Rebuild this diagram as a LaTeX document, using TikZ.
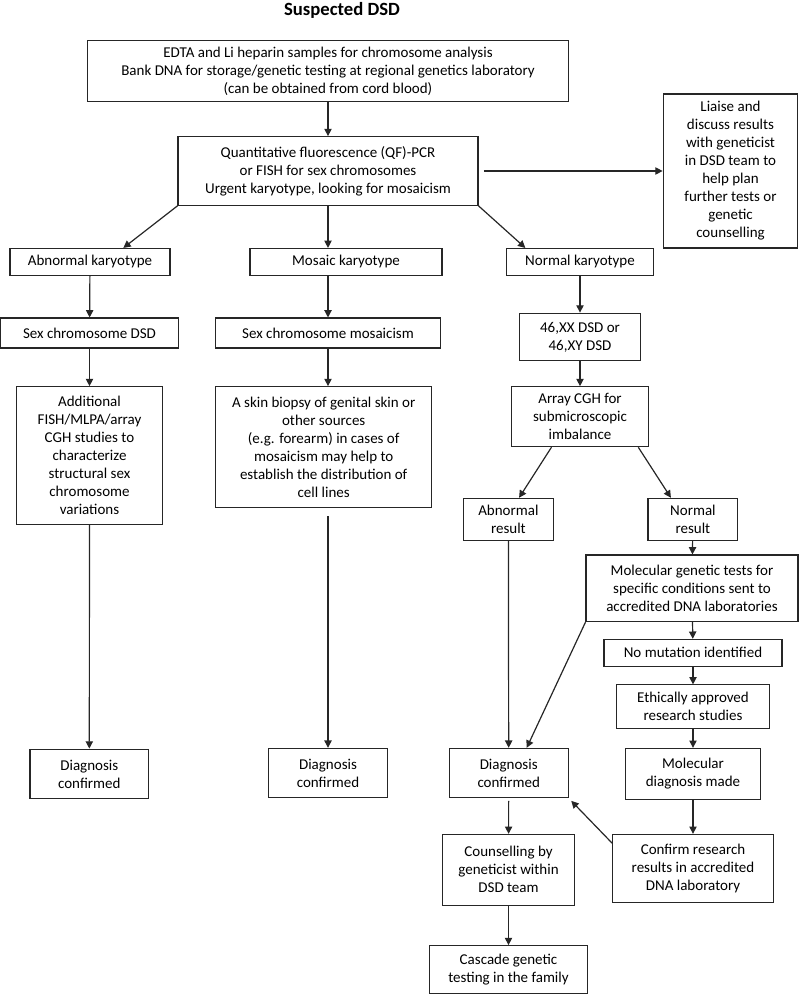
\documentclass[tikz,border=0pt]{standalone}
\usepackage{fontspec}
\setmainfont{Carlito}
\usetikzlibrary{arrows.meta}

\begin{document}
\begin{tikzpicture}[x=0.75pt, y=-0.75pt, font=\fontsize{11.25}{13.5}\selectfont,
	box/.style={draw=black!85, line width=0.8pt, align=center, inner sep=2pt},
	arr/.style={-{Triangle[length=5.5pt,width=5.5pt]}, line width=0.9pt, draw=black!85}]
	\useasboundingbox (0,0) rectangle (800,994);

	\node (title) [anchor=base, font=\fontsize{14}{16}\selectfont\bfseries] at (342,16) {Suspected DSD};

	% top of the chart
	\node (samples) [box, minimum width=361pt, minimum height=46pt] at (328,71) {EDTA and Li heparin samples for chromosome analysis\\Bank DNA for storage/genetic testing at regional genetics laboratory\\(can be obtained from cord blood)};
	\node (qf) [box, minimum width=225pt, minimum height=51.5pt] at (328,171) {Quantitative fluorescence (QF)-PCR\\or FISH for sex chromosomes\\Urgent karyotype, looking for mosaicism};
	\node (liaise) [box, minimum width=101pt, minimum height=115.5pt] at (730.5,171) {Liaise and\\discuss results\\with geneticist\\in DSD team to\\help plan\\further tests or\\genetic\\counselling};

	% karyotype results
	\node (abnkar) [box, minimum width=120pt, minimum height=20.3pt] at (90,262) {Abnormal karyotype};
	\node (moskar) [box, minimum width=144pt, minimum height=20.3pt] at (346,262) {Mosaic karyotype};
	\node (normkar) [box, minimum width=110pt, minimum height=20.3pt] at (580,262) {Normal karyotype};

	\node (sexdsd) [box, minimum width=133.5pt, minimum height=22.5pt] at (89.5,333) {Sex chromosome DSD};
	\node (sexmos) [box, minimum width=168.4pt, minimum height=22.5pt] at (328,333) {Sex chromosome mosaicism};
	\node (xydsd) [box, minimum width=90.8pt, minimum height=35.8pt] at (580,337) {46,XX DSD or\\46,XY DSD};

	\node (extra) [box, minimum width=110pt, minimum height=103.2pt] at (89.5,455.5) {Additional\\FISH/MLPA/array\\CGH studies to\\characterize\\structural sex\\chromosome\\variations};
	\node (skin) [box, minimum width=162pt, minimum height=90.8pt] at (323.7,447.2) {A skin biopsy of genital skin or\\other sources\\(e.g. forearm) in cases of\\mosaicism may help to\\establish the distribution of\\cell lines};
	\node (cgh) [box, minimum width=103.4pt, minimum height=45pt] at (580,416.7) {Array CGH for\\submicroscopic\\imbalance};

	\node (abnres) [box, minimum width=67.7pt, minimum height=31.8pt] at (508.4,519.5) {Abnormal\\result};
	\node (normres) [box, minimum width=67.4pt, minimum height=31.8pt] at (692.9,519.5) {Normal\\result};

	% molecular branch
	\node (moltest) [box, minimum width=159pt, minimum height=50pt] at (692,588.3) {Molecular genetic tests for\\specific conditions sent to\\accredited DNA laboratories};
	\node (nomut) [box, minimum width=133.5pt, minimum height=20pt] at (693,652.7) {No mutation identified};
	\node (ethic) [box, minimum width=114.2pt, minimum height=32.8pt] at (693,706.8) {Ethically approved\\research studies};
	\node (moldiag) [box, minimum width=101pt, minimum height=38pt] at (693,773.7) {Molecular\\diagnosis made};
	\node (confirm) [box, minimum width=120.5pt, minimum height=51.2pt] at (693,868.5) {Confirm research\\results in accredited\\DNA laboratory};

	% diagnoses
	\node (diagL) [box, minimum width=89pt, minimum height=37.3pt] at (89.3,774) {Diagnosis\\confirmed};
	\node (diagM) [box, minimum width=89pt, minimum height=37pt] at (328,773) {Diagnosis\\confirmed};
	\node (diagR) [box, minimum width=89pt, minimum height=37pt] at (508.7,773) {Diagnosis\\confirmed};
	\node (couns) [box, minimum width=99.2pt, minimum height=53pt] at (508.5,869.7) {Counselling by\\geneticist within\\DSD team};
	\node (cascade) [box, minimum width=118.7pt, minimum height=35.8pt] at (508.5,969.5) {Cascade genetic\\testing in the family};

	\draw[arr] (samples) -- (qf);
	\draw[arr, shorten <=4pt] (qf) -- (liaise);
	\draw[arr] (qf.south west) -- ([xshift=25pt]abnkar.north);
	\draw[arr] (qf.south) -- (qf.south |- moskar.north);
	\draw[arr] (qf.south east) -- ([xshift=-41pt]normkar.north);

	\draw[arr] (abnkar) -- (sexdsd);
	\draw[arr] (moskar.south -| sexmos.north) -- (sexmos.north);
	\draw[arr] (normkar) -- (xydsd);

	\draw[arr] (sexdsd) -- (extra);
	\draw[arr] (sexmos.south) -- (sexmos.south |- skin.north);
	\draw[arr] (xydsd) -- (cgh);

	\draw[arr] ([xshift=-21.4pt]cgh.south) -- ([xshift=8pt]abnres.north);
	\draw[arr] ([xshift=43.7pt]cgh.south) -- ([xshift=-16.5pt]normres.north);

	\draw[arr] (extra) -- (diagL);
	\draw[arr] ([yshift=-6pt]skin.south -| diagM.north) -- (diagM.north);
	\draw[arr] (abnres) -- (diagR);
	\draw[arr] (normres) -- (moltest);
	\draw[arr] (moltest.south west) -- ([xshift=13.5pt]diagR.north);

	\draw[arr] (moltest) -- (nomut);
	\draw[arr] (nomut) -- (ethic);
	\draw[arr] (ethic) -- (moldiag);
	\draw[arr] (moldiag) -- (confirm);
	\draw[arr] ([yshift=-7pt]confirm.north west) -- ([shift={(2pt,-2pt)}]diagR.south east);

	\draw[arr, shorten <=2pt] (diagR) -- (couns);
	\draw[arr] (couns) -- (cascade);

\end{tikzpicture}
\end{document}
